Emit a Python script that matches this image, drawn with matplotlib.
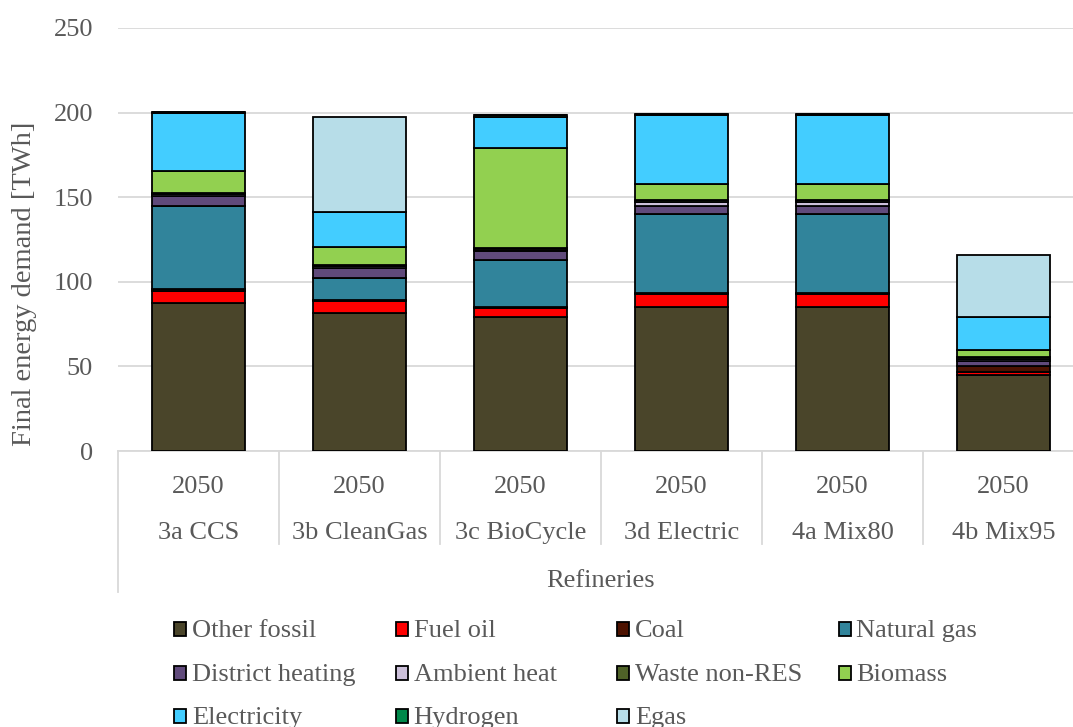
import matplotlib
matplotlib.use("Agg")
import matplotlib.pyplot as plt
from matplotlib.patches import Rectangle
import numpy as np

scenarios = ['3a CCS', '3b CleanGas', '3c BioCycle', '3d Electric', '4a Mix80', '4b Mix95']
years = ['2050'] * 6
group_label = 'Refineries'

series_names = ['Other fossil', 'Fuel oil', 'Coal', 'Natural gas', 'District heating',
                'Ambient heat', 'Waste non-RES', 'Biomass', 'Electricity', 'Hydrogen', 'Egas']
other_fossil = [87.5, 81.5, 79.4, 85.3, 85.3, 45.0]
fuel_oil = [7.0, 7.3, 5.1, 7.5, 7.5, 1.7]
coal = [1.0, 0.3, 0.5, 0.5, 0.5, 3.3]
natural_gas = [49.5, 13.1, 27.9, 47.0, 47.0, 0.2]
district_heating = [5.5, 6.0, 5.5, 4.5, 4.5, 2.8]
ambient_heat = [1.2, 1.0, 0.3, 2.5, 2.5, 1.5]
waste_non_res = [1.0, 0.8, 1.2, 0.8, 0.8, 1.0]
biomass = [12.8, 10.5, 59.1, 9.7, 9.7, 4.2]
electricity = [34.0, 21.0, 18.4, 40.5, 40.5, 19.3]
hydrogen = [1.0, 0.0, 1.0, 1.0, 1.0, 0.0]
egas = [0.0, 55.7, 0.0, 0.0, 0.0, 36.7]

colors = ['#4A452A', '#FF0000', '#4D1200', '#31849B', '#604A7B', '#CCC0DA',
          '#4F6228', '#92D050', '#43CDFF', '#00884A', '#B7DDE8']
series = [other_fossil, fuel_oil, coal, natural_gas, district_heating, ambient_heat,
          waste_non_res, biomass, electricity, hydrogen, egas]

plt.rcParams['font.family'] = ['Liberation Serif', 'DejaVu Serif']
txt = '#595959'
fs = 19

W, H = 1073, 727
fig = plt.figure(figsize=(W / 100, H / 100), dpi=100)
ax = fig.add_axes([118 / W, 1 - 451 / H, (1084 - 118) / W, (451 - 28) / H])

x = np.arange(len(scenarios))
bottom = np.zeros(len(scenarios))
for name, vals, c in zip(series_names, series, colors):
    v = np.array(vals, dtype=float)
    ax.bar(x, v, 0.58, bottom=bottom, color=c, edgecolor='black', linewidth=1.3,
           label=name, zorder=3)
    bottom += v

ax.set_xlim(-0.5, len(scenarios) - 0.5)
ax.set_ylim(0, 250)
ax.set_yticks(np.arange(0, 251, 50))
ax.yaxis.grid(True, color='#D9D9D9', linewidth=1.3, zorder=0)
ax.set_axisbelow(True)
for s in ['top', 'right', 'left']:
    ax.spines[s].set_visible(False)
ax.spines['bottom'].set_color('#D9D9D9')
ax.spines['bottom'].set_linewidth(1.3)
ax.tick_params(axis='y', length=0, pad=18, labelsize=fs, labelcolor=txt)
ax.set_xticks([])
fig.text(25 / W, 1 - 284 / H, 'Final energy demand [TWh]', rotation=90, ha='center',
         va='center', fontsize=20.5, color=txt)

tr = ax.get_xaxis_transform()
for i, (yr, sc) in enumerate(zip(years, scenarios)):
    ax.text(i, -0.085, yr, transform=tr, ha='center', va='center', fontsize=fs, color=txt)
    ax.text(i, -0.194, sc, transform=tr, ha='center', va='center', fontsize=fs, color=txt)
ax.text((len(scenarios) - 1) / 2, -0.307, group_label, transform=tr, ha='center',
        va='center', fontsize=fs, color=txt)
for i in range(1, len(scenarios)):
    ax.plot([i - 0.5, i - 0.5], [0, -0.22], transform=tr, color='#D9D9D9', lw=1.3,
            clip_on=False)
ax.plot([-0.5, -0.5], [0, -0.333], transform=tr, color='#D9D9D9', lw=1.3, clip_on=False)

# Legend (row-major, equal column widths like the original)
row_y = [629, 673, 716]
col_x0 = 174
col_w = 221.5
for idx, (name, c) in enumerate(zip(series_names, colors)):
    r, k = divmod(idx, 4)
    x0 = col_x0 + k * col_w
    yc = row_y[r]
    fig.patches.append(Rectangle((x0 / W, 1 - (yc + 7) / H), 12 / W, 14 / H,
                                 transform=fig.transFigure, facecolor=c,
                                 edgecolor='black', linewidth=1.3))
    fig.text((x0 + 18) / W, 1 - (yc + 2) / H, name, ha='left', va='center',
             fontsize=fs, color=txt)

fig.savefig('out.png', dpi=100)
